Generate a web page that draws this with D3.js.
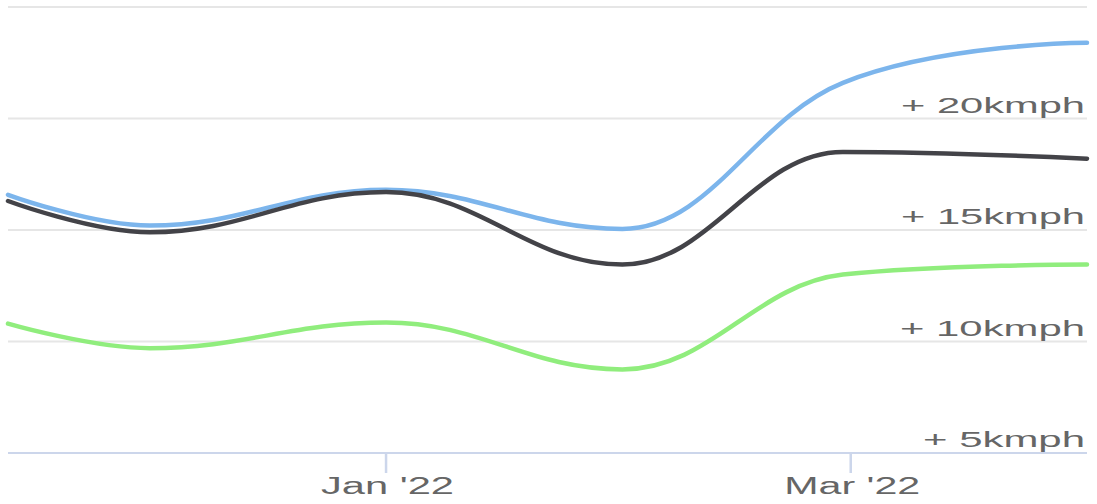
<!DOCTYPE html>
<html>
<head>
<meta charset="utf-8">
<script src="https://cdn.jsdelivr.net/npm/d3@7"></script>
<style>
  html, body { margin: 0; padding: 0; background: #ffffff; }
  svg { display: block; }
</style>
</head>
<body>
<svg id="chart" width="1097" height="504"></svg>
<script>
// ---- data ----
const dates = ["2021-11-14", "2021-12-02", "2022-01-01", "2022-01-31", "2022-02-28", "2022-03-31"];
const seriesBlue  = [16.58, 15.2, 16.8, 15.05, 21.6, 23.4];
const seriesBlack = [16.3, 14.9, 16.7, 13.45, 18.5, 18.2];
const seriesGreen = [10.8, 9.7, 10.85, 8.75, 13.0, 13.45];
const yTicks = [5, 10, 15, 20, 25];
const yTickLabels = ["+ 5kmph", "+ 10kmph", "+ 15kmph", "+ 20kmph", ""];
const xTicks = ["2022-01-01", "2022-03-01"];
const xTickLabels = ["Jan '22", "Mar '22"];

(function () {
// ---- layout ----
const mLeft = 8, mRight = 1087, mTop = 7, mBottom = 453;
const parse = d3.utcParse("%Y-%m-%d");

const x = d3.scaleUtc()
  .domain(d3.extent(dates, parse))
  .range([mLeft, mRight]);
const y = d3.scaleLinear()
  .domain([5, 25])
  .range([mBottom, mTop]);

const svg = d3.select("#chart");

// Highcharts-like spline curve
function HCSpline(context) { this._context = context; }
HCSpline.prototype = {
  areaStart() { this._line = 0; },
  areaEnd() { this._line = NaN; },
  lineStart() { this._pts = []; },
  point(px, py) { this._pts.push({x: +px, y: +py}); },
  lineEnd() {
    const pts = this._pts, ctx = this._context;
    if (!pts.length) return;
    const s = 1.5, den = s + 1;
    ctx.moveTo(pts[0].x, pts[0].y);
    let lastRC = null;
    for (let i = 1; i < pts.length; i++) {
      const p = pts[i], last = pts[i - 1], next = pts[i + 1];
      let lcx = p.x, lcy = p.y, rc = null;
      if (next) {
        lcx = (s * p.x + last.x) / den;
        lcy = (s * p.y + last.y) / den;
        let rcx = (s * p.x + next.x) / den;
        let rcy = (s * p.y + next.y) / den;
        let corr = 0;
        if (rcx !== lcx) corr = ((rcy - lcy) * (rcx - p.x)) / (rcx - lcx) + p.y - rcy;
        lcy += corr; rcy += corr;
        if (lcy > last.y && lcy > p.y) { lcy = Math.max(last.y, p.y); rcy = 2 * p.y - lcy; }
        else if (lcy < last.y && lcy < p.y) { lcy = Math.min(last.y, p.y); rcy = 2 * p.y - lcy; }
        if (rcy > next.y && rcy > p.y) { rcy = Math.max(next.y, p.y); lcy = 2 * p.y - rcy; }
        else if (rcy < next.y && rcy < p.y) { rcy = Math.min(next.y, p.y); lcy = 2 * p.y - rcy; }
        rc = {x: rcx, y: rcy};
      }
      const c1 = lastRC || last;
      ctx.bezierCurveTo(c1.x, c1.y, lcx, lcy, p.x, p.y);
      lastRC = rc;
    }
  }
};
const curveHC = ctx => new HCSpline(ctx);

// grid lines
svg.append("g").selectAll("line")
  .data(yTicks.filter(v => v !== 5))
  .join("line")
  .attr("x1", mLeft).attr("x2", mRight)
  .attr("y1", d => y(d)).attr("y2", d => y(d))
  .attr("stroke", "#e6e6e6")
  .attr("stroke-width", 2);

// x axis line and ticks
svg.append("line")
  .attr("x1", mLeft).attr("x2", mRight)
  .attr("y1", y(5)).attr("y2", y(5))
  .attr("stroke", "#ccd6eb").attr("stroke-width", 2);

svg.append("g").selectAll("line")
  .data(xTicks)
  .join("line")
  .attr("x1", d => x(parse(d))).attr("x2", d => x(parse(d)))
  .attr("y1", y(5)).attr("y2", y(5) + 20)
  .attr("stroke", "#ccd6eb").attr("stroke-width", 2.5);

const xLabelLen = [133, 136];
svg.append("g").selectAll("text")
  .data(xTicks)
  .join("text")
  .attr("x", d => x(parse(d)) + 1.5)
  .attr("y", 494)
  .attr("text-anchor", "middle")
  .attr("font-family", "'Liberation Sans', Arial, sans-serif")
  .attr("font-size", 23)
  .attr("fill", "#666666")
  .attr("textLength", (d, i) => xLabelLen[i])
  .attr("lengthAdjust", "spacingAndGlyphs")
  .text((d, i) => xTickLabels[i]);

// y labels (right aligned, above gridline)
const yLabelLen = {5: 162, 10: 185, 15: 184, 20: 184};
svg.append("g").selectAll("text")
  .data(yTicks.filter((v, i) => yTickLabels[i] !== ""))
  .join("text")
  .attr("x", 1085)
  .attr("y", d => y(d) - 6)
  .attr("text-anchor", "end")
  .attr("font-family", "'Liberation Sans', Arial, sans-serif")
  .attr("font-size", 22)
  .attr("fill", "#666666")
  .attr("textLength", d => yLabelLen[d])
  .attr("lengthAdjust", "spacingAndGlyphs")
  .text(d => yTickLabels[yTicks.indexOf(d)]);

// series
const line = d3.line()
  .x(d => x(d[0]))
  .y(d => y(d[1]))
  .curve(curveHC);

const series = [
  {values: seriesBlue, color: "#7cb5ec"},
  {values: seriesBlack, color: "#434348"},
  {values: seriesGreen, color: "#90ed7d"}
];

svg.append("g").selectAll("path")
  .data(series)
  .join("path")
  .attr("d", s => line(dates.map((d, i) => [parse(d), s.values[i]])))
  .attr("fill", "none")
  .attr("stroke", s => s.color)
  .attr("stroke-width", 4.5)
  .attr("stroke-linejoin", "round")
  .attr("stroke-linecap", "round");
})();
</script>
</body>
</html>
